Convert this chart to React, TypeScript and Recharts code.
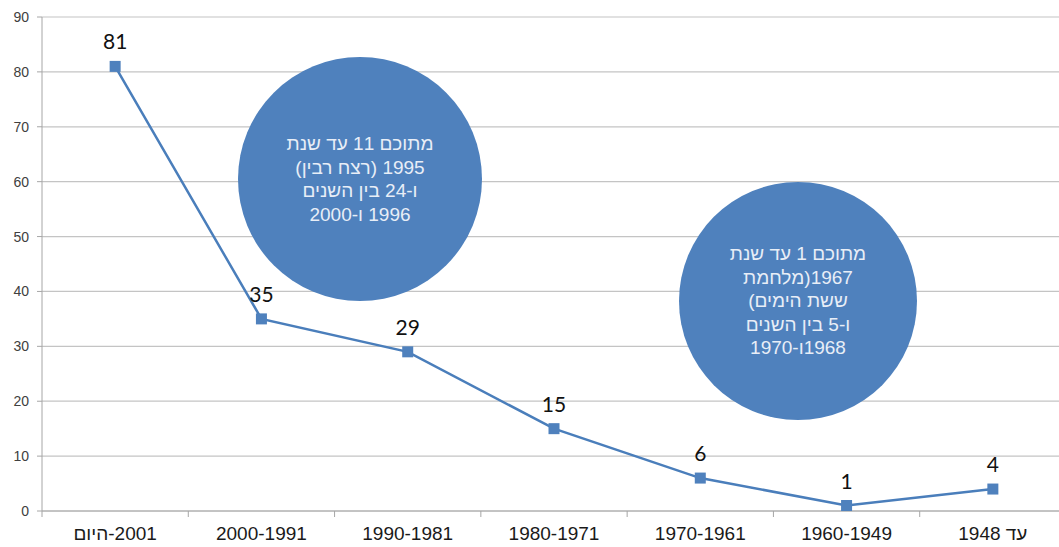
import { LineChart, Line, XAxis, YAxis, CartesianGrid, LabelList } from "recharts";

const CATEGORIES = [
  "2001-היום",
  "2000-1991",
  "1990-1981",
  "1980-1971",
  "1970-1961",
  "1960-1949",
  "עד 1948",
];
const VALUES = [81, 35, 29, 15, 6, 1, 4];
const Y_TICKS = [0, 10, 20, 30, 40, 50, 60, 70, 80, 90];

const NOTE_1 = ["מתוכם 11 עד שנת", "1995 (רצח רבין)", "ו-24 בין השנים", "1996 ו-2000"];
const NOTE_2 = ["מתוכם 1 עד שנת", "1967(מלחמת", "ששת הימים)", "ו-5 בין השנים", "1968ו-1970"];

const W = 1059;
const H = 547;
// the plot runs a little past the right edge of the picture
const CHART_W = 1066;
const Y_AXIS_W = 42;
const BLUE = "#4f81bd";
const GRID = "#c4c4c4";

const data = CATEGORIES.map((name, i) => ({ name, value: VALUES[i] }));

function CategoryTick({ x, y, payload }: any) {
  const band = (CHART_W - Y_AXIS_W) / CATEGORIES.length;
  const left = x - band / 2;
  return (
    <g>
      <line x1={left} x2={left} y1={y} y2={y + 6} stroke="#a6a6a6" strokeWidth={1} />
      <text
        x={x}
        y={y + 29}
        textAnchor="middle"
        direction="rtl"
        fill="#1a1a1a"
        fontSize={19}
        fontFamily="Liberation Sans, Arial, sans-serif"
      >
        {payload.value}
      </text>
    </g>
  );
}

function SquareDot({ cx, cy, index }: any) {
  return <rect key={index} x={cx - 5.5} y={cy - 5.5} width={11} height={11} fill={BLUE} />;
}

function ValueLabel({ x, y, value }: any) {
  return (
    <text
      x={x}
      y={y - 17}
      textAnchor="middle"
      fill="#111"
      fontSize={21}
      fontFamily="Lato, Open Sans, sans-serif"
    >
      {value}
    </text>
  );
}

function Bubble({ cx, cy, r, lines }: { cx: number; cy: number; r: number; lines: string[] }) {
  return (
    <div
      style={{
        position: "absolute",
        left: cx - r,
        top: cy - r,
        width: r * 2,
        height: r * 2,
        borderRadius: "50%",
        background: BLUE,
        color: "#e8eef7",
        display: "flex",
        flexDirection: "column",
        alignItems: "center",
        justifyContent: "center",
        fontFamily: "Liberation Sans, Arial, sans-serif",
        fontSize: 19,
        lineHeight: "23.5px",
      }}
    >
      {lines.map((l, i) => (
        <div key={i} dir="rtl">
          {l}
        </div>
      ))}
    </div>
  );
}

export default function App() {
  return (
    <div
      style={{
        position: "absolute",
        left: 0,
        top: 0,
        width: W,
        height: H,
        background: "#fff",
        overflow: "hidden",
      }}
    >
      <LineChart width={CHART_W} height={H} data={data} margin={{ top: 17, right: 0, bottom: 0, left: 0 }}>
        <CartesianGrid vertical={false} stroke={GRID} strokeWidth={1.2} />
        <XAxis
          dataKey="name"
          scale="band"
          height={36}
          interval={0}
          axisLine={{ stroke: "#a6a6a6" }}
          tickLine={false}
          tickSize={0}
          tickMargin={0}
          tick={<CategoryTick />}
        />
        <YAxis
          width={Y_AXIS_W}
          domain={[0, 90]}
          ticks={Y_TICKS}
          interval={0}
          axisLine={{ stroke: "#a6a6a6" }}
          tickLine={{ stroke: "#a6a6a6" }}
          tickSize={5}
          tickMargin={8}
          tick={{ fill: "#404040", fontSize: 14, fontFamily: "Liberation Sans, Arial, sans-serif" }}
        />
        <Line
          type="linear"
          dataKey="value"
          stroke="#4a7ebb"
          strokeWidth={2.5}
          dot={<SquareDot />}
          activeDot={false}
          isAnimationActive={false}
        >
          <LabelList dataKey="value" content={<ValueLabel />} />
        </Line>
      </LineChart>
      <Bubble cx={360} cy={179} r={122} lines={NOTE_1} />
      <Bubble cx={798} cy={301} r={119} lines={NOTE_2} />
    </div>
  );
}
